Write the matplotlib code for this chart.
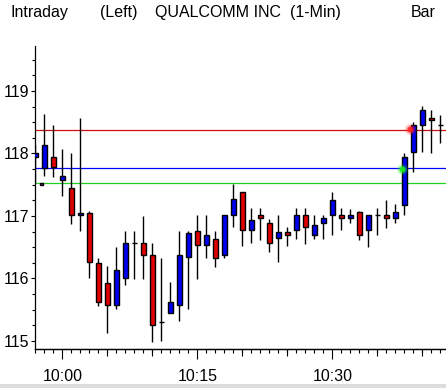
#
# Intraday 1-minute candlestick chart, QUALCOMM INC
#

import numpy as np
import matplotlib.pyplot as plt
from matplotlib.ticker import MultipleLocator, FixedLocator, NullFormatter

# Candle data (1-min bars, first bar at 09:57)
start_minute = -3   # minutes relative to 10:00
opens = [117.95, 117.77, 117.94, 117.58, 117.44, 117.02, 117.05, 116.25, 115.93, 115.58,
         116.01, 116.56, 116.56, 116.37, 115.31, 115.45, 115.58, 116.34, 116.76, 116.53,
         116.63, 116.38, 117.02, 117.38, 116.77, 117.01, 116.88, 116.64, 116.75, 116.77,
         117.01, 116.70, 116.89, 117.02, 117.01, 116.96, 117.07, 116.77, 117.01, 117.01,
         116.96, 117.18, 118.02, 118.46, 118.56, 118.45]
highs = [118.14, 118.63, 118.45, 118.07, 118.00, 118.57, 117.08, 116.32, 116.20, 116.50,
         116.76, 116.76, 117.00, 116.56, 116.33, 115.94, 116.76, 116.76, 117.01, 117.01,
         116.76, 117.01, 117.51, 117.38, 117.12, 117.12, 116.95, 117.01, 116.82, 117.12,
         117.12, 117.01, 117.01, 117.38, 117.12, 117.11, 117.08, 117.01, 117.12, 117.26,
         117.19, 118.00, 118.51, 118.76, 118.69, 118.62]
lows = [117.52, 117.64, 117.63, 117.32, 116.87, 116.76, 116.00, 115.56, 115.12, 115.51,
        115.89, 115.99, 115.99, 114.98, 115.00, 115.45, 115.32, 115.51, 115.99, 116.33,
        116.18, 116.33, 116.83, 116.52, 116.57, 116.62, 116.42, 116.26, 116.52, 116.63,
        116.55, 116.63, 116.63, 116.70, 116.78, 116.89, 116.62, 116.50, 116.70, 116.81,
        116.89, 117.02, 117.71, 118.02, 118.00, 118.17]
closes = [118.01, 118.13, 117.79, 117.64, 117.02, 117.05, 116.26, 115.63, 115.58, 116.13,
          116.56, 116.56, 116.38, 115.26, 115.31, 115.62, 116.37, 116.72, 116.53, 116.69,
          116.33, 117.01, 117.27, 116.77, 116.94, 116.96, 116.57, 116.75, 116.70, 117.01,
          116.83, 116.86, 116.97, 117.25, 116.96, 117.01, 116.70, 117.01, 117.01, 116.96,
          117.07, 117.94, 118.45, 118.69, 118.53, 118.45]

# Reference lines and markers
red_level = 118.38
blue_level = 117.76
green_level = 117.52
prev_close = 117.51
prev_close_x = -2.3
red_dot = (38.63, 118.39)
green_dot = (37.71, 117.75)

time_labels = ["10:00", "10:15", "10:30"]
time_ticks = [0, 15, 30]

font = ["Liberation Sans", "DejaVu Sans"]
fs = 11.5

x = start_minute + np.arange(len(opens))
o = np.array(opens)
c = np.array(closes)
up = c > o
body_bottom = np.minimum(o, c)
body_height = np.abs(c - o)

fig = plt.figure(figsize=(4.46, 3.88), dpi=100)
ax = fig.add_axes([34.5 / 446, 1 - 349 / 388, 1 - 34.5 / 446, (349 - 46) / 388])

# horizontal levels
ax.axhline(red_level, color="#d01010", lw=0.9, zorder=1)
ax.axhline(blue_level, color="#0000ff", lw=0.9, zorder=1)
ax.axhline(green_level, color="#20d020", lw=0.9, zorder=1)

# wicks
ax.vlines(x, lows, highs, color="black", lw=1.0, zorder=2)

# bodies
w = 0.52
colors = np.where(up, "#0000ee", "#e00000")
doji = body_height < 0.005
ax.bar(x[~doji], body_height[~doji], bottom=body_bottom[~doji], width=w,
       color=colors[~doji], edgecolor="black", linewidth=1.0, zorder=3)
ax.hlines(o[doji], x[doji] - w / 2, x[doji] + w / 2, color="black", lw=1.0, zorder=3)

# previous close marker
ax.bar([prev_close_x], [0.035], bottom=prev_close - 0.02, width=0.4,
       color="#cc00cc", edgecolor="black", linewidth=1.0, zorder=3)

# glowing crossing dots
for (px, py), col in [(red_dot, "#ff2020"), (green_dot, "#20ee20")]:
    for s, a in [(70, 0.15), (40, 0.3), (18, 0.9)]:
        ax.scatter([px], [py], s=s, color=col, alpha=a, lw=0, zorder=4)

ax.set_xlim(-3.09, 42.63)
ax.set_ylim(114.87, 119.72)

for side in ["top", "right"]:
    ax.spines[side].set_visible(False)
for side in ["left", "bottom"]:
    ax.spines[side].set_linewidth(0.9)

ax.yaxis.set_minor_locator(MultipleLocator(0.25))
ax.set_yticks([115, 116, 117, 118, 119])
ax.set_yticklabels(["115", "116", "117", "118", "119"])
ax.tick_params(axis="y", which="major", length=3.0, width=0.8, pad=1, labelsize=fs)
ax.tick_params(axis="y", which="minor", length=2.0, width=0.8)

ax.set_xticks(time_ticks)
ax.set_xticklabels(time_labels)
ax.xaxis.set_minor_locator(MultipleLocator(1))
ax.tick_params(axis="x", which="major", length=7.2, width=0.8, pad=7, labelsize=fs)
ax.tick_params(axis="x", which="minor", length=2.9, width=0.8)

# medium ticks every 5 minutes
sec = ax.secondary_xaxis("bottom")
sec.xaxis.set_major_locator(FixedLocator([-5, 5, 10, 20, 25, 35, 40]))
sec.xaxis.set_major_formatter(NullFormatter())
sec.tick_params(axis="x", length=5.0, width=0.8)
sec.spines["bottom"].set_linewidth(0.9)

for lab in ax.get_xticklabels() + ax.get_yticklabels():
    lab.set_fontfamily(font)

# header
ty = 1 - 17 / 388
fig.text(10 / 446, ty, "Intraday", fontsize=fs, family=font, va="baseline")
fig.text(100 / 446, ty, "(Left)", fontsize=fs, family=font, va="baseline")
fig.text(155 / 446, ty, "QUALCOMM INC  (1-Min)", fontsize=fs, family=font, va="baseline")
fig.text(411 / 446, ty, "Bar", fontsize=fs, family=font, va="baseline")

# scroll bar strip at the bottom
fig.patches.append(plt.Rectangle((0, 0), 1, 4 / 388, transform=fig.transFigure,
                                 facecolor="#dcdcdc", edgecolor="none"))

plt.savefig("out.png", dpi=100)
